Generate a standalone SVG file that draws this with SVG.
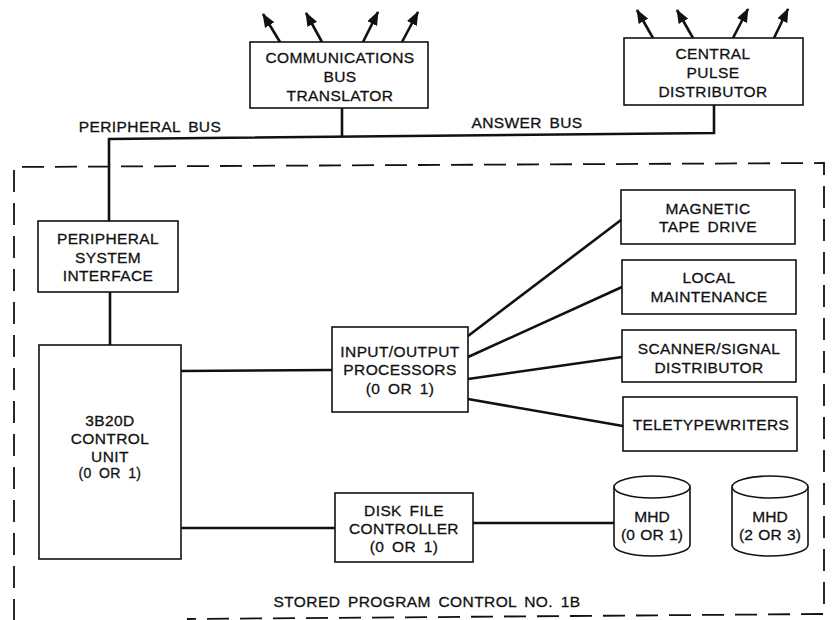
<svg xmlns="http://www.w3.org/2000/svg" width="833" height="620" viewBox="0 0 833 620">
<style>
.box{fill:#fff;stroke:#111;stroke-width:1.6}
.ln{fill:none;stroke:#111;stroke-width:2.6}
.arr{fill:none;stroke:#111;stroke-width:2.6;marker-end:url(#ah)}
.dash{fill:none;stroke:#111;stroke-width:1.8;stroke-dasharray:22 11}
text{font-family:"Liberation Sans",Arial,sans-serif;font-size:15.5px;fill:#111;stroke:#111;stroke-width:0.3;text-anchor:middle;letter-spacing:0.4px;word-spacing:3px;dominant-baseline:central}
</style>
<defs>
<marker id="ah" viewBox="0 0 14 11" refX="13" refY="5.5" markerWidth="14" markerHeight="11" markerUnits="userSpaceOnUse" orient="auto">
<path d="M0,0 L14,5.5 L0,11 Z" fill="#111"/>
</marker>
</defs>
<rect width="833" height="620" fill="#fff"/>
<path class="dash" d="M14,621 L14,167 L824,163 L824,614 L187,619"/>
<g id="connectors">
<path class="ln" d="M109,221 L109,139 L714,133 L714,105"/>
<path class="ln" d="M342,108 L342,137"/>
<path class="ln" d="M110,292 L110,345"/>
<path class="ln" d="M181,371 L332,370"/>
<path class="ln" d="M181,528 L335,528"/>
<path class="ln" d="M473,523 L614,523"/>
<path class="ln" d="M468,336 L621,220"/>
<path class="ln" d="M468,357 L622,287"/>
<path class="ln" d="M468,379 L622,357"/>
<path class="ln" d="M468,399 L623,426"/>
<path class="arr" d="M280,42 L263,14"/>
<path class="arr" d="M322,42 L306,13"/>
<path class="arr" d="M363,42 L378,12"/>
<path class="arr" d="M402,42 L418,12"/>
<path class="arr" d="M653,38 L637,10"/>
<path class="arr" d="M693,38 L677,10"/>
<path class="arr" d="M733,38 L748,9"/>
<path class="arr" d="M774,38 L788,9"/>
</g>
<text x="150" y="126">PERIPHERAL BUS</text>
<text x="527" y="122">ANSWER BUS</text>
<g id="cbt">
<rect class="box" x="250" y="42" width="178" height="66"/>
<text x="340" y="57">COMMUNICATIONS</text>
<text x="340" y="76">BUS</text>
<text x="340" y="95">TRANSLATOR</text>
</g>
<g id="cpd">
<rect class="box" x="624" y="38" width="179" height="67"/>
<text x="713" y="53">CENTRAL</text>
<text x="713" y="72">PULSE</text>
<text x="713" y="91">DISTRIBUTOR</text>
</g>
<g id="psi">
<rect class="box" x="38" y="221" width="140" height="71"/>
<text x="108" y="238">PERIPHERAL</text>
<text x="108" y="257">SYSTEM</text>
<text x="108" y="275">INTERFACE</text>
</g>
<g id="cu">
<rect class="box" x="39" y="345" width="142" height="214"/>
<text x="110" y="420">3B20D</text>
<text x="110" y="438">CONTROL</text>
<text x="110" y="456">UNIT</text>
<text x="110" y="473" style="font-size:14px">(0 OR 1)</text>
</g>
<g id="iop">
<rect class="box" x="332" y="327" width="136" height="85"/>
<text x="400" y="351">INPUT/OUTPUT</text>
<text x="400" y="369">PROCESSORS</text>
<text x="400" y="388">(0 OR 1)</text>
</g>
<g id="dfc">
<rect class="box" x="335" y="493" width="138" height="69"/>
<text x="404" y="510">DISK FILE</text>
<text x="404" y="528">CONTROLLER</text>
<text x="404" y="546">(0 OR 1)</text>
</g>
<g id="mtd">
<rect class="box" x="621" y="190" width="174" height="54"/>
<text x="708" y="208">MAGNETIC</text>
<text x="708" y="226">TAPE DRIVE</text>
</g>
<g id="lm">
<rect class="box" x="622" y="260" width="174" height="54"/>
<text x="709" y="277">LOCAL</text>
<text x="709" y="296">MAINTENANCE</text>
</g>
<g id="ssd">
<rect class="box" x="622" y="330" width="174" height="52"/>
<text x="709" y="348">SCANNER/SIGNAL</text>
<text x="709" y="367">DISTRIBUTOR</text>
</g>
<g id="tty">
<rect class="box" x="623" y="397" width="174" height="54"/>
<text x="711" y="424">TELETYPEWRITERS</text>
</g>
<g id="mhd1">
<path class="box" d="M614,487 L614,545 A38,11 0 0 0 690,545 L690,487"/>
<ellipse class="box" cx="652" cy="487" rx="38" ry="11"/>
<text x="652" y="516" style="letter-spacing:0.1px;word-spacing:1px">MHD</text>
<text x="652" y="534" style="letter-spacing:0.1px;word-spacing:1px">(0 OR 1)</text>
</g>
<g id="mhd2">
<path class="box" d="M732,487 L732,545 A38,11 0 0 0 808,545 L808,487"/>
<ellipse class="box" cx="770" cy="487" rx="38" ry="11"/>
<text x="770" y="516" style="letter-spacing:0.1px;word-spacing:1px">MHD</text>
<text x="770" y="534" style="letter-spacing:0.1px;word-spacing:1px">(2 OR 3)</text>
</g>
<text x="427" y="601">STORED PROGRAM CONTROL NO. 1B</text>
</svg>
